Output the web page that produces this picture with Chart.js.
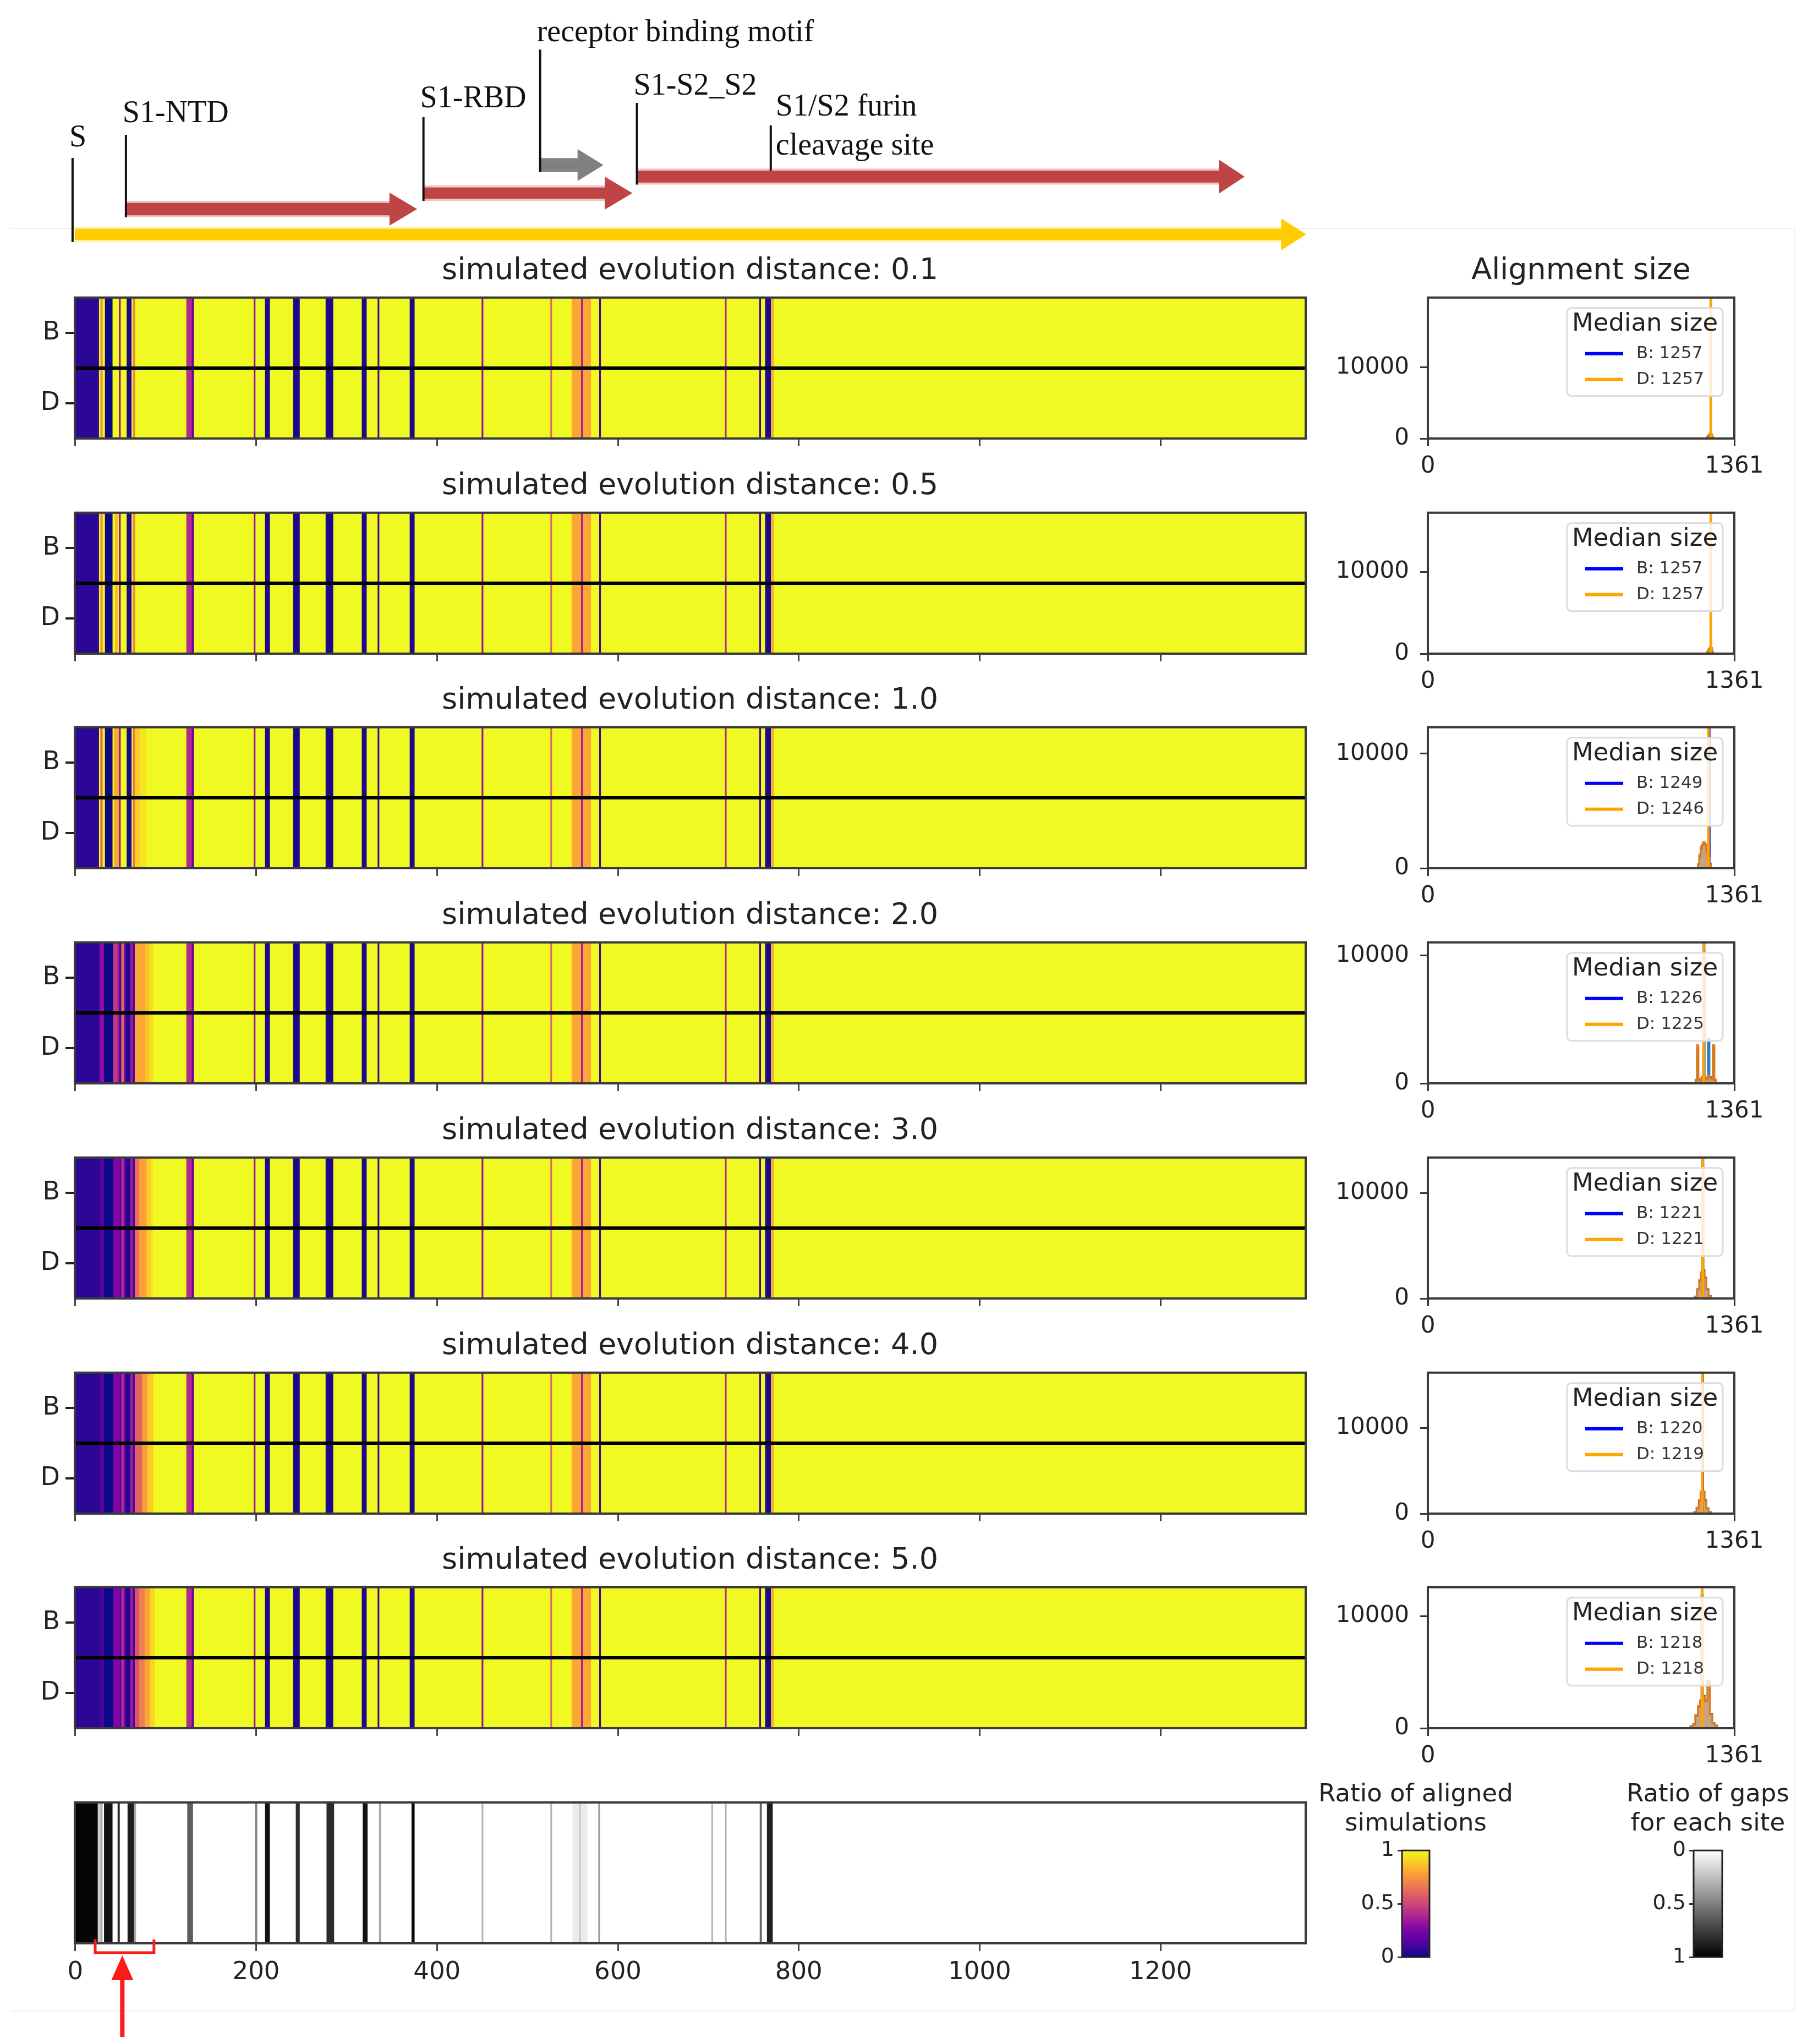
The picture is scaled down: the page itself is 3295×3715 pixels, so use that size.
<!DOCTYPE html>
<html>
<head>
<meta charset="utf-8">
<script src="https://cdn.jsdelivr.net/npm/chart.js@4.4.0/dist/chart.umd.min.js"></script>
<style>
  html, body { margin: 0; padding: 0; background: #fff; }
  body { width: 3295px; height: 3715px; position: relative; overflow: hidden; }
  canvas { position: absolute; }
  #frame { position: absolute; left: 19px; top: 414px; width: 3242px; height: 3238px;
           border-top: 2px solid #efefef; border-right: 2px solid #efefef; border-bottom: 2px solid #efefef; }
</style>
</head>
<body>
<div id="frame"></div>
<script>
Chart.defaults.font.family = '"DejaVu Sans", sans-serif';
Chart.defaults.color = '#222';
Chart.defaults.animation = false;

// ---- data ----
const distances = ['0.1', '0.5', '1.0', '2.0', '3.0', '4.0', '5.0'];
const rowLabels = ['B', 'D'];
const siteMin = -0.5, siteMax = 1360.5;
const siteTicks = [0, 200, 400, 600, 800, 1000, 1200];
const baseRatio = 1.0;

// N-terminal region, per panel: [start, end, ratio of aligned simulations]
const ntermSegs = [
  [[-0.5, 26, 0.06], [28, 30, 0.72], [33, 41, 0.0], [48.5, 50, 0.3], [57, 62, 0.03], [64, 66, 0.7]],
  [[-0.5, 26, 0.06], [28, 30, 0.72], [33, 41, 0.0], [44, 47, 0.85], [48.5, 50, 0.3], [57, 62, 0.03], [64, 66, 0.7]],
  [[-0.5, 26, 0.06], [28, 30, 0.6], [33, 41, 0.0], [43, 48, 0.8], [48.5, 50, 0.3], [57, 62, 0.03], [64, 66, 0.65], [66, 72, 0.9], [72, 78, 0.95]],
  [[-0.5, 27, 0.06], [27, 32, 0.3], [32, 42, 0.0], [42, 47, 0.45], [47, 49, 0.35], [49, 51, 0.1], [51, 54, 0.6], [54, 56, 0.25],
   [56, 61, 0.03], [61, 64, 0.35], [64, 66, 0.12], [66, 77, 0.8], [77, 82, 0.87], [82, 86, 0.94]],
  [[-0.5, 27, 0.06], [27, 32, 0.15], [32, 42, 0.0], [42, 50, 0.25], [50, 51, 0.1], [51, 54, 0.4], [54, 56, 0.2],
   [56, 61, 0.03], [61, 64, 0.35], [64, 66, 0.12], [66, 71, 0.65], [71, 79, 0.78], [79, 84, 0.9], [84, 86, 0.95]],
  [[-0.5, 27, 0.06], [27, 32, 0.14], [32, 42, 0.0], [42, 50, 0.25], [50, 51, 0.1], [51, 54, 0.4], [54, 56, 0.2],
   [56, 61, 0.03], [61, 64, 0.35], [64, 66, 0.12], [66, 74, 0.6], [74, 80, 0.77], [80, 86, 0.9]],
  [[-0.5, 27, 0.06], [27, 32, 0.12], [32, 42, 0.0], [42, 50, 0.25], [50, 51, 0.1], [51, 54, 0.4], [54, 56, 0.2],
   [56, 61, 0.03], [61, 64, 0.35], [64, 66, 0.12], [66, 71, 0.55], [71, 77, 0.68], [77, 83, 0.8], [83, 88, 0.92]]
];

// sites that look the same in every panel
const sharedSegs = [
  [123, 129, 0.4], [129, 131, 0.2], [197.5, 199, 0.3], [210, 215, 0.03], [241, 248, 0.03], [277, 285, 0.03],
  [317, 322, 0.03], [334.5, 336, 0.1], [370, 375, 0.03], [449.5, 451, 0.3], [525.5, 527, 0.6],
  [549, 570, 0.8], [559.5, 561, 0.35], [579.5, 581, 0.1], [718.5, 720, 0.4], [756.5, 758, 0.1],
  [763, 769, 0.03], [770, 772, 0.8]
];

// bottom strip: ratio of gaps for each site
const gapBase = 0;
const gapSegs = [
  [-0.5, 25, 1.0], [25, 28, 0.2], [28, 30, 0.3], [32, 41, 0.95], [47, 49, 0.85], [58, 65, 0.9], [65, 67, 0.35],
  [124, 130, 0.65], [199, 201, 0.5], [210, 215, 0.95], [244, 248, 0.85], [278, 286, 0.85], [318, 323, 0.95],
  [336, 338, 0.35], [372, 375, 1.0], [449.5, 451, 0.3], [525.5, 527, 0.3], [550, 566, 0.08], [557, 559, 0.2],
  [578.5, 580, 0.4], [703.5, 705, 0.3], [718.5, 720, 0.3], [757, 759, 0.6], [765, 771, 0.9]
];
const bracketRange = [22, 87];
const arrowSite = 52;

// alignment size histograms
const alignMax = 1361;
const alignTicksY = [0, 10000];
const alignYMax = [19800, 17260, 12300, 11030, 13375, 16460, 12560];
const medianB = [1257, 1257, 1249, 1226, 1221, 1220, 1218];
const medianD = [1257, 1257, 1246, 1225, 1221, 1219, 1218];
const histSizes = [
  [1238, 1244, 1250, 1254, 1257, 1260, 1264, 1270],
  [1238, 1244, 1250, 1254, 1257, 1260, 1264, 1270],
  [1196, 1202, 1208, 1214, 1220, 1226, 1232, 1238, 1243, 1246, 1249, 1254, 1260],
  [1185, 1192, 1198, 1205, 1212, 1219, 1225, 1226, 1232, 1240, 1247, 1255, 1262, 1269, 1276, 1283],
  [1180, 1190, 1200, 1210, 1216, 1221, 1226, 1232, 1242, 1252, 1262],
  [1178, 1188, 1198, 1208, 1214, 1219, 1220, 1226, 1232, 1242, 1252, 1262],
  [1160, 1171, 1182, 1193, 1205, 1212, 1218, 1225, 1236, 1247, 1258, 1269, 1280, 1290]
];
const histD = [
  [0, 250, 500, 700, 18860, 600, 200, 0],
  [0, 300, 600, 800, 16440, 700, 250, 0],
  [0, 400, 1200, 1900, 2100, 2300, 2000, 1600, 1200, 11700, 900, 300, 0],
  [0, 300, 3000, 300, 200, 400, 10500, 300, 500, 300, 600, 400, 300, 3000, 300, 0],
  [0, 200, 900, 1800, 2500, 12740, 2600, 1900, 800, 200, 0],
  [0, 200, 700, 1600, 2600, 15680, 2000, 2500, 1500, 600, 150, 0],
  [0, 200, 300, 1200, 2000, 2500, 11960, 2800, 2400, 4240, 1200, 400, 200, 0]
];
const histB = [
  [0, 300, 550, 650, 18700, 550, 150, 0],
  [0, 280, 580, 760, 16300, 650, 200, 0],
  [0, 300, 1000, 1700, 2000, 2200, 2100, 1700, 1300, 2500, 11500, 400, 0],
  [0, 250, 2800, 350, 250, 500, 2000, 10300, 400, 400, 3500, 500, 350, 2900, 250, 0],
  [0, 180, 850, 1700, 2400, 12600, 2700, 2000, 900, 250, 0],
  [0, 200, 650, 1500, 2500, 2200, 15500, 2600, 1600, 650, 200, 0],
  [0, 180, 350, 1100, 1900, 2400, 11800, 2900, 2500, 4100, 1300, 450, 250, 0]
];

// protein domains shown above the panels (sequence positions)
const domainNames = ['S', 'S1-NTD', 'S1-RBD', 'receptor binding motif', 'S1-S2_S2'];
const domainStart = [-3, 56, 385, 514, 621];
const domainShaftEnd = [1334, 348, 586, 556, 1265];
const domainTip = [1361, 378, 616, 584, 1293];
const siteNames = ['S1/S2 furin', 'cleavage site'];
const siteMark = 769;

// colorbars
const cbTicks = [0, 0.5, 1];
const cbTickText = ['0', '0.5', '1'];

// ---- styles / layout ----
const plasmaStops = ['#0d0887', '#41049d', '#6a00a8', '#8f0da4', '#b12a90', '#cc4778',
                     '#e16462', '#f2844b', '#fca636', '#fcce25', '#f0f921'];
const domainColor = ['#ffcc00', '#bf4444', '#bf4444', '#808080', '#bf4444'];
const domainEdge = ['#fff1a8', '#ecc4c4', '#ecc4c4', '#808080', '#ecc4c4'];
const laneY = [426, 380, 351, 300, 321];
const shaftW = [28, 30, 28, 25, 29];
const headHalf = [29, 30, 30, 29, 31];
const markerTop = [287, 245, 213, 90, 187];
const labelY = [251, 207, 180, 60, 157];
const panelTop0 = 541, panelStep = 390.7;

function hexRgb(h) {
  return [parseInt(h.slice(1, 3), 16), parseInt(h.slice(3, 5), 16), parseInt(h.slice(5, 7), 16)];
}
function plasma(v) {
  const t = Math.max(0, Math.min(1, v)) * (plasmaStops.length - 1);
  const i = Math.min(Math.floor(t), plasmaStops.length - 2);
  const f = t - i;
  const a = hexRgb(plasmaStops[i]), b = hexRgb(plasmaStops[i + 1]);
  const c = a.map((x, k) => Math.round(x + (b[k] - x) * f));
  return `rgb(${c[0]},${c[1]},${c[2]})`;
}
function grayR(v) {
  const c = Math.round(250 * (1 - v)) + 5;
  return `rgb(${c},${c},${c})`;
}

function makeCanvas(left, top, w, h) {
  const c = document.createElement('canvas');
  c.width = w; c.height = h;
  c.style.left = left + 'px'; c.style.top = top + 'px';
  c.style.width = w + 'px'; c.style.height = h + 'px';
  document.body.appendChild(c);
  return c;
}

const fixW = (w) => (s) => { s.width = w; };
const fixH = (h) => (s) => { s.height = h; };
const setTicks = (vals) => (s) => { s.ticks = vals.map(v => ({ value: v })); };

// frame around plot area + optional black line between the two rows
const heatFrame = {
  id: 'heatFrame',
  afterDatasetsDraw(chart, args, opts) {
    const { ctx, chartArea: a } = chart;
    ctx.save();
    if (opts.mid) {
      const y = chart.scales.y.getPixelForValue(0.5);
      ctx.strokeStyle = '#000'; ctx.lineWidth = 6;
      ctx.beginPath(); ctx.moveTo(a.left, y); ctx.lineTo(a.right, y); ctx.stroke();
    }
    ctx.strokeStyle = '#3a3a3a'; ctx.lineWidth = 4;
    ctx.strokeRect(a.left, a.top, a.right - a.left, a.bottom - a.top);
    ctx.restore();
  }
};

// ---- top: domain arrows ----
{
  const c = makeCanvas(0, 0, 2508, 460);
  const annot = {
    id: 'annot',
    afterDatasetsDraw(chart) {
      const ctx = chart.ctx, xs = chart.scales.x;
      ctx.save();
      ctx.textAlign = 'left'; ctx.textBaseline = 'middle';
      ctx.font = '56px "Liberation Serif", serif';
      domainNames.forEach((name, i) => {
        const x0 = xs.getPixelForValue(domainStart[i]);
        const xb = xs.getPixelForValue(domainShaftEnd[i]);
        const xt = xs.getPixelForValue(domainTip[i]);
        const y = laneY[i];
        ctx.fillStyle = domainColor[i];
        ctx.beginPath();
        ctx.moveTo(xb - 1, y - headHalf[i]); ctx.lineTo(xt, y); ctx.lineTo(xb - 1, y + headHalf[i]);
        ctx.closePath(); ctx.fill();
        ctx.strokeStyle = '#111'; ctx.lineWidth = 4;
        ctx.beginPath(); ctx.moveTo(x0, markerTop[i]); ctx.lineTo(x0, y + shaftW[i] / 2); ctx.stroke();
        ctx.fillStyle = '#111';
        ctx.fillText(name, x0 - 6, labelY[i]);
      });
      const xs0 = xs.getPixelForValue(siteMark);
      ctx.beginPath(); ctx.moveTo(xs0, 228); ctx.lineTo(xs0, 310); ctx.stroke();
      ctx.fillText(siteNames[0], xs0 + 9, 195);
      ctx.fillText(siteNames[1], xs0 + 9, 266);
      ctx.restore();
    }
  };
  new Chart(c, {
    type: 'bar',
    data: {
      datasets: domainNames.map((n, i) => ({
        label: n,
        data: [{ x: [domainStart[i], domainShaftEnd[i]], y: laneY[i] }],
        backgroundColor: domainColor[i],
        borderColor: domainEdge[i],
        borderWidth: { top: 4, bottom: 4, left: 0, right: 0 },
        borderSkipped: false,
        barThickness: shaftW[i],
        grouped: false
      }))
    },
    options: {
      responsive: false, devicePixelRatio: 1, indexAxis: 'y',
      layout: { padding: { left: 136, right: 135, top: 0, bottom: 0 } },
      plugins: { legend: { display: false }, tooltip: { enabled: false } },
      scales: {
        x: { type: 'linear', min: siteMin, max: siteMax, display: false },
        y: { type: 'linear', min: 0, max: 460, reverse: true, offset: false, display: false }
      }
    },
    plugins: [annot]
  });
}

// ---- heatmap panels ----
distances.forEach((d, i) => {
  const top = Math.round(panelTop0 + panelStep * i) - 120;
  const c = makeCanvas(0, top, 2508, 437);
  const segs = [[siteMin, siteMax, baseRatio]].concat(sharedSegs, ntermSegs[i]);
  const data = [];
  rowLabels.forEach(r => segs.forEach(s => data.push({ x: [s[0], s[1]], y: r, v: s[2] })));
  new Chart(c, {
    type: 'bar',
    data: {
      labels: rowLabels,
      datasets: [{
        data,
        backgroundColor: (ctx) => plasma(ctx.raw ? ctx.raw.v : 1),
        borderWidth: 0, barPercentage: 1, categoryPercentage: 1
      }]
    },
    options: {
      responsive: false, devicePixelRatio: 1, indexAxis: 'y',
      plugins: {
        legend: { display: false }, tooltip: { enabled: false },
        title: { display: true, text: 'simulated evolution distance: ' + d, color: '#222',
                 font: { size: 54, weight: 'normal' }, padding: { top: 40, bottom: 15 } },
        heatFrame: { mid: true }
      },
      scales: {
        x: {
          type: 'linear', min: siteMin, max: siteMax, afterBuildTicks: setTicks(siteTicks), afterFit: fixH(61),
          grid: { drawOnChartArea: false, drawTicks: true, tickLength: 14, lineWidth: 3, color: '#444' },
          border: { display: false },
          ticks: { color: 'rgba(0,0,0,0)', font: { size: 45 } }
        },
        y: {
          type: 'category', offset: true, afterFit: fixW(136),
          grid: { offset: false, drawOnChartArea: false, drawTicks: true, tickLength: 17, lineWidth: 4, color: '#222' },
          border: { display: false },
          ticks: { font: { size: 46 }, color: '#222', padding: 10 }
        },
        y2: {
          type: 'linear', position: 'right', afterFit: fixW(135),
          grid: { display: false }, border: { display: false }, ticks: { display: false }
        }
      }
    },
    plugins: [heatFrame]
  });
});

// ---- alignment size panels ----
const medianLegend = {
  id: 'medianLegend',
  afterDraw(chart, args, opts) {
    const { ctx, chartArea: a } = chart;
    const w = 283, h = 160;
    const left = a.right - 21 - w, top = a.top + 19;
    ctx.save();
    ctx.beginPath();
    if (ctx.roundRect) ctx.roundRect(left, top, w, h, 8); else ctx.rect(left, top, w, h);
    ctx.fillStyle = 'rgba(255,255,255,0.8)'; ctx.fill();
    ctx.strokeStyle = '#dcdcdc'; ctx.lineWidth = 3; ctx.stroke();
    ctx.fillStyle = '#222'; ctx.textBaseline = 'middle';
    ctx.textAlign = 'center'; ctx.font = '45px "DejaVu Sans"';
    ctx.fillText('Median size', left + w / 2, top + 30);
    ctx.textAlign = 'left'; ctx.font = '31px "DejaVu Sans"';
    opts.items.forEach((it, k) => {
      const y = top + 83 + k * 47;
      ctx.strokeStyle = it.color; ctx.lineWidth = 6;
      ctx.beginPath(); ctx.moveTo(left + 33, y); ctx.lineTo(left + 102, y); ctx.stroke();
      ctx.fillStyle = '#333';
      ctx.fillText(it.text, left + 126, y);
    });
    ctx.restore();
  }
};

distances.forEach((d, i) => {
  const top = Math.round(panelTop0 + panelStep * i) - 120;
  const c = makeCanvas(2360, top, 1027, 470);
  const pts = (xs, ys) => xs.map((x, k) => ({ x, y: ys[k] }));
  const vline = (m) => [{ x: m, y: 0 }, { x: m, y: alignYMax[i] }];
  new Chart(c, {
    type: 'line',
    data: {
      datasets: [
        { label: 'D median', data: vline(medianD[i]), borderColor: '#ffa500', borderWidth: 5, pointRadius: 0 },
        { label: 'D', data: pts(histSizes[i], histD[i]), stepped: 'middle', fill: 'origin',
          backgroundColor: 'rgba(255,127,14,0.45)', borderColor: 'rgba(240,120,10,0.9)', borderWidth: 3, pointRadius: 0 },
        { label: 'B median', data: vline(medianB[i]), borderColor: '#0000ff', borderWidth: 5, pointRadius: 0 },
        { label: 'B', data: pts(histSizes[i], histB[i]), stepped: 'middle', fill: 'origin',
          backgroundColor: 'rgba(31,119,180,0.45)', borderColor: 'rgba(31,119,180,0.9)', borderWidth: 3, pointRadius: 0 }
      ]
    },
    options: {
      responsive: false, devicePixelRatio: 1,
      layout: { padding: { bottom: 12 } },
      plugins: {
        legend: { display: false }, tooltip: { enabled: false },
        title: { display: true, text: i === 0 ? 'Alignment size' : '', color: '#222',
                 font: { size: 54, weight: 'normal' }, padding: { top: 40, bottom: 15 } },
        heatFrame: { mid: false },
        medianLegend: { items: [
          { color: '#0000ff', text: 'B: ' + medianB[i] },
          { color: '#ffa500', text: 'D: ' + medianD[i] }
        ] }
      },
      scales: {
        x: {
          type: 'linear', min: 0, max: alignMax, afterBuildTicks: setTicks([0, alignMax]), afterFit: fixH(82),
          grid: { drawOnChartArea: false, drawTicks: true, tickLength: 14, lineWidth: 3, color: '#333' },
          border: { display: false },
          ticks: { font: { size: 42 }, color: '#222', padding: 12, maxRotation: 0, callback: v => String(v) }
        },
        y: {
          type: 'linear', min: 0, max: alignYMax[i], afterBuildTicks: setTicks(alignTicksY), afterFit: fixW(235),
          grid: { drawOnChartArea: false, drawTicks: true, tickLength: 14, lineWidth: 3, color: '#333' },
          border: { display: false },
          ticks: { font: { size: 42 }, color: '#222', padding: 20, callback: v => String(v) }
        },
        y2: {
          type: 'linear', position: 'right', afterFit: fixW(235),
          grid: { display: false }, border: { display: false }, ticks: { display: false }
        }
      }
    },
    plugins: [heatFrame, medianLegend]
  });
});

// ---- bottom strip: ratio of gaps ----
{
  const stripTop = Math.round(panelTop0 + panelStep * 7);
  const c = makeCanvas(0, stripTop - 50, 2508, 3715 - stripTop + 50);
  const segs = [[siteMin, siteMax, gapBase]].concat(gapSegs);
  const marks = {
    id: 'marks',
    afterDraw(chart) {
      const { ctx, chartArea: a } = chart;
      const xs = chart.scales.x;
      const x1 = xs.getPixelForValue(bracketRange[0]), x2 = xs.getPixelForValue(bracketRange[1]);
      const xa = xs.getPixelForValue(arrowSite);
      ctx.save();
      ctx.strokeStyle = '#ff1a1a'; ctx.fillStyle = '#ff1a1a'; ctx.lineWidth = 5;
      ctx.beginPath();
      ctx.moveTo(x1, a.bottom - 7); ctx.lineTo(x1, a.bottom + 17); ctx.lineTo(x2, a.bottom + 17); ctx.lineTo(x2, a.bottom - 7);
      ctx.stroke();
      ctx.beginPath();
      ctx.moveTo(xa, a.bottom + 22); ctx.lineTo(xa - 20, a.bottom + 67); ctx.lineTo(xa + 20, a.bottom + 67);
      ctx.closePath(); ctx.fill();
      ctx.lineWidth = 8;
      ctx.beginPath(); ctx.moveTo(xa, a.bottom + 60); ctx.lineTo(xa, a.bottom + 170); ctx.stroke();
      ctx.restore();
    }
  };
  new Chart(c, {
    type: 'bar',
    data: {
      labels: ['gaps'],
      datasets: [{
        data: segs.map(s => ({ x: [s[0], s[1]], y: 'gaps', v: s[2] })),
        backgroundColor: (ctx) => grayR(ctx.raw ? ctx.raw.v : 0),
        borderWidth: 0, barPercentage: 1, categoryPercentage: 1
      }]
    },
    options: {
      responsive: false, devicePixelRatio: 1, indexAxis: 'y',
      layout: { padding: { top: 50, bottom: 3715 - stripTop - 256 - 90 } },
      plugins: { legend: { display: false }, tooltip: { enabled: false }, heatFrame: { mid: false } },
      scales: {
        x: {
          type: 'linear', min: siteMin, max: siteMax, afterBuildTicks: setTicks(siteTicks), afterFit: fixH(90),
          grid: { drawOnChartArea: false, drawTicks: true, tickLength: 14, lineWidth: 3, color: '#444' },
          border: { display: false },
          ticks: { font: { size: 45 }, color: '#222', padding: 12, maxRotation: 0, callback: v => String(v) }
        },
        y: {
          type: 'category', offset: true, afterFit: fixW(136),
          grid: { display: false }, border: { display: false }, ticks: { color: 'rgba(0,0,0,0)' }
        },
        y2: {
          type: 'linear', position: 'right', afterFit: fixW(135),
          grid: { display: false }, border: { display: false }, ticks: { display: false }
        }
      }
    },
    plugins: [heatFrame, marks]
  });
}

// ---- colorbars ----
const cbFill = {
  id: 'cbFill',
  beforeDatasetsDraw(chart, args, opts) {
    const { ctx, chartArea: a } = chart;
    const g = ctx.createLinearGradient(0, a.bottom, 0, a.top);
    opts.colors.forEach((col, k) => g.addColorStop(k / (opts.colors.length - 1), col));
    ctx.save();
    ctx.fillStyle = g;
    ctx.fillRect(a.left, a.top, a.right - a.left, a.bottom - a.top);
    ctx.strokeStyle = '#222'; ctx.lineWidth = 3;
    ctx.strokeRect(a.left, a.top, a.right - a.left, a.bottom - a.top);
    ctx.restore();
  }
};

function colorbar(left, width, title, colors, reverse, sideW) {
  const c = makeCanvas(left, 3215, width, 380);
  new Chart(c, {
    type: 'bar',
    data: { labels: [], datasets: [] },
    options: {
      responsive: false, devicePixelRatio: 1,
      layout: { padding: { bottom: 38 } },
      plugins: {
        legend: { display: false }, tooltip: { enabled: false },
        title: { display: true, text: title, color: '#222', font: { size: 45, weight: 'normal', lineHeight: 1.18 },
                 padding: { top: 21, bottom: 21 } },
        cbFill: { colors }
      },
      scales: {
        x: { display: false },
        y: {
          type: 'linear', min: 0, max: 1, reverse, afterBuildTicks: setTicks(cbTicks), afterFit: fixW(sideW[0]),
          grid: { drawOnChartArea: false, drawTicks: true, tickLength: 8, lineWidth: 3, color: '#333' },
          border: { display: false },
          ticks: { font: { size: 38 }, color: '#222', padding: 6, callback: (v) => cbTickText[cbTicks.indexOf(v)] }
        },
        y2: {
          type: 'linear', position: 'right', afterFit: fixW(sideW[1]),
          grid: { display: false }, border: { display: false }, ticks: { display: false }
        }
      }
    },
    plugins: [cbFill]
  });
}

colorbar(2363, 420, ['Ratio of aligned', 'simulations'], plasmaStops, false, [185, 185]);
colorbar(2913, 382, ['Ratio of gaps', 'for each site'], ['#000000', '#ffffff'], true, [165, 165]);
</script>
</body>
</html>
